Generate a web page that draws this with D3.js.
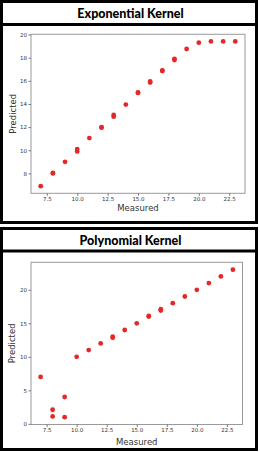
<!DOCTYPE html>
<html>
<head>
<meta charset="utf-8">
<script src="https://cdn.jsdelivr.net/npm/d3@7"></script>
<style>
  html, body { margin: 0; padding: 0; background: #fff; }
  svg { display: block; }
</style>
</head>
<body>
<svg id="chart" width="260" height="452"></svg>
<script>
// ---- Data ----
const titles = ["Exponential Kernel", "Polynomial Kernel"];
const expMeasured  = [7, 8, 8, 9, 10, 10, 11, 12, 12, 13, 13, 14, 15, 15, 16, 16, 17, 17, 18, 18, 19, 20, 21, 22, 23];
const expPredicted = [6.9, 8.0, 8.05, 9.0, 10.1, 9.9, 11.05, 11.95, 12.0, 13.05, 12.9, 13.95, 14.95, 15.0, 15.95, 15.85, 16.9, 16.85, 17.9, 17.8, 18.75, 19.3, 19.4, 19.4, 19.4];
const polyMeasured  = [7, 8, 8, 9, 9, 10, 11, 12, 13, 13, 14, 15, 16, 16, 17, 17, 18, 19, 20, 21, 22, 23];
const polyPredicted = [7.0, 2.1, 1.1, 4.0, 1.0, 10.0, 11.0, 12.0, 13.0, 12.85, 14.0, 15.0, 16.1, 16.0, 17.1, 16.9, 18.0, 19.0, 20.0, 21.0, 22.0, 23.0];
const xTicks = [7.5, 10, 12.5, 15, 17.5, 20, 22.5];
const expYTicks = [8, 10, 12, 14, 16, 18, 20];
const polyYTicks = [0, 5, 10, 15, 20];
const xLabel = "Measured";
const yLabel = "Predicted";

// ---- Layout ----
const svg = d3.select("#chart");
const panels = [
  { title: titles[0], xs: expMeasured, ys: expPredicted, yTicks: expYTicks, yDom: [6.28, 20.02],
    box: [0, 0, 258, 224], divider: 24.5, titleY: 17.5,
    plot: { l: 31, r: 245, t: 34.3, b: 193.3 }, xLabY: 211, yLabX: 16, yFmt: d3.format("d") },
  { title: titles[1], xs: polyMeasured, ys: polyPredicted, yTicks: polyYTicks, yDom: [-0.1, 24.1],
    box: [0, 227, 258, 451], divider: 251, titleY: 245,
    plot: { l: 31, r: 242.5, t: 262.3, b: 424.5 }, xLabY: 445, yLabX: 15, yFmt: d3.format("d") }
];

panels.forEach(p => {
  const g = svg.append("g");
  const [x0, y0, x1, y1] = p.box;
  g.append("rect")
    .attr("x", x0 + 1.5).attr("y", y0 + 1.5)
    .attr("width", x1 - x0 - 3).attr("height", y1 - y0 - 3)
    .attr("fill", "#fff").attr("stroke", "#000").attr("stroke-width", 3);
  g.append("line")
    .attr("x1", x0).attr("x2", x1)
    .attr("y1", p.divider).attr("y2", p.divider)
    .attr("stroke", "#000").attr("stroke-width", 3);
  g.append("text")
    .attr("x", 130.5).attr("y", p.titleY)
    .attr("text-anchor", "middle")
    .attr("font-family", "Lato, 'Open Sans', sans-serif")
    .attr("font-weight", "900")
    .attr("font-size", 12.5)
    .attr("fill", "#000")
    .text(p.title);

  const pl = p.plot;
  const x = d3.scaleLinear().domain([6.2, 23.8]).range([pl.l, pl.r]);
  const y = d3.scaleLinear().domain(p.yDom).range([pl.b, pl.t]);

  g.append("rect")
    .attr("x", pl.l).attr("y", pl.t)
    .attr("width", pl.r - pl.l).attr("height", pl.b - pl.t)
    .attr("fill", "none").attr("stroke", "#999").attr("stroke-width", 1);

  const xAxis = d3.axisBottom(x).tickValues(xTicks).tickFormat(d3.format(".1f"))
    .tickSize(2.5).tickPadding(1.5);
  const yAxis = d3.axisLeft(y).tickValues(p.yTicks).tickFormat(p.yFmt)
    .tickSize(2.5).tickPadding(1.5);

  const gx = g.append("g").attr("transform", `translate(0,${pl.b})`).call(xAxis);
  const gy = g.append("g").attr("transform", `translate(${pl.l},0)`).call(yAxis);
  [gx, gy].forEach(ax => {
    ax.select(".domain").remove();
    ax.selectAll("line").attr("stroke", "#777");
    ax.selectAll("text")
      .attr("font-family", "'DejaVu Sans', sans-serif")
      .attr("font-size", 5.5)
      .attr("fill", "#333");
  });

  g.append("g").selectAll("circle")
    .data(p.xs.map((v, i) => [v, p.ys[i]]))
    .join("circle")
    .attr("cx", d => x(d[0]))
    .attr("cy", d => y(d[1]))
    .attr("r", 2.4)
    .attr("fill", "#e42828");

  g.append("text")
    .attr("x", (pl.l + pl.r) / 2).attr("y", p.xLabY)
    .attr("text-anchor", "middle")
    .attr("font-family", "'DejaVu Sans', sans-serif")
    .attr("font-size", 8.5)
    .attr("fill", "#333")
    .text(xLabel);
  g.append("text")
    .attr("transform", `translate(${p.yLabX},${(pl.t + pl.b) / 2}) rotate(-90)`)
    .attr("text-anchor", "middle")
    .attr("font-family", "'DejaVu Sans', sans-serif")
    .attr("font-size", 8.5)
    .attr("fill", "#333")
    .text(yLabel);
});
</script>
</body>
</html>
